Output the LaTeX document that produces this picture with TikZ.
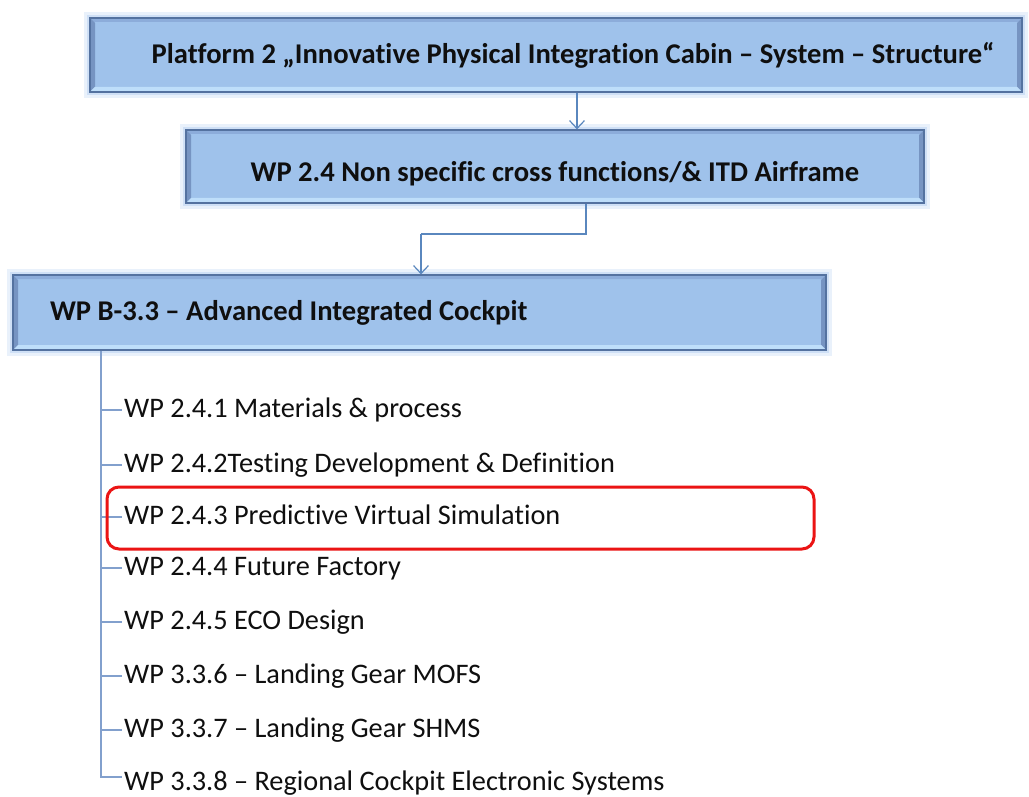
\documentclass[tikz,border=0pt]{standalone}
\usepackage{fontspec}
\setmainfont{Carlito}[Ligatures={NoCommon}]
\usetikzlibrary{arrows.meta}
\definecolor{boxfill}{RGB}{159,194,235}
\definecolor{boxline}{RGB}{84,114,160}
\definecolor{bevdark}{RGB}{118,148,194}
\definecolor{bevtop}{RGB}{140,172,218}
\definecolor{bevlight}{RGB}{190,222,250}
\definecolor{glowc}{RGB}{170,200,240}
\definecolor{connc}{RGB}{90,135,190}
\definecolor{treec}{RGB}{130,160,205}
\definecolor{hlred}{RGB}{235,20,20}
\definecolor{txtc}{RGB}{15,15,15}
\begin{document}
\begin{tikzpicture}[x=1pt,y=-1pt,
  box/.style={draw=boxline, line width=1.2pt, fill=boxfill, inner sep=0pt, text=txtc,
    font=\bfseries\fontsize{28.6}{32}\selectfont,
    preaction={draw=glowc, line width=12pt, opacity=0.25},
    preaction={draw=glowc, line width=6pt, opacity=0.4},
    path picture={
      \fill[bevtop] (path picture bounding box.north west) -- (path picture bounding box.north east)
        -- ([shift={(-4,4)}]path picture bounding box.north east) -- ([shift={(4,4)}]path picture bounding box.north west) -- cycle;
      \fill[bevdark] (path picture bounding box.north west) -- (path picture bounding box.south west)
        -- ([shift={(5,-5)}]path picture bounding box.south west) -- ([shift={(5,5)}]path picture bounding box.north west) -- cycle;
      \fill[bevdark] (path picture bounding box.north east) -- (path picture bounding box.south east)
        -- ([shift={(-5,-5)}]path picture bounding box.south east) -- ([shift={(-5,5)}]path picture bounding box.north east) -- cycle;
      \fill[bevlight] (path picture bounding box.south west) -- (path picture bounding box.south east)
        -- ([shift={(-5,-5)}]path picture bounding box.south east) -- ([shift={(5,-5)}]path picture bounding box.south west) -- cycle;
    }},
  item/.style={anchor=base west, inner sep=2pt, text height=20pt, text depth=6pt, text=txtc,
    font=\fontsize{28.3}{32}\selectfont},
  conn/.style={draw=connc, line width=1.2pt},
  arr/.style={conn, -{Straight Barb[length=8pt,width=15pt]}},
  tree/.style={draw=treec, line width=1.2pt},
  hl/.style={draw=hlred, line width=3pt, rounded corners=12pt, inner sep=0pt}
]
\useasboundingbox (0,0) rectangle (1029,797);
\fill[white] (0,0) rectangle (1029,797);

\node[box, minimum width=932pt, minimum height=74pt] (b1) at (556,55)
  {\hspace*{34pt}Platform 2 „Innovative Physical Integration Cabin – System – Structure“};
\node[box, minimum width=738pt, minimum height=73pt] (b2) at (555,166.5)
  {\raisebox{-15pt}[0pt][0pt]{WP 2.4 Non specific cross functions/\& ITD Airframe}};
\node[box, minimum width=813pt, minimum height=75pt] (b3) at (419.5,312.5)
  {\makebox[739pt][l]{WP B-3.3 – Advanced Integrated Cockpit}};

\coordinate (k1) at (577,110);
\coordinate (k2) at (586,234);
\coordinate (k3) at (421,234);
\draw[arr] (b1.south -| k1) -- (b2.north -| k1);
\draw[conn] (b2.south -| k2) -- (k2) -- (k3);
\draw[arr] (k3) -- (b3.north -| k3);

\node[item] (i1) at (122,417) {WP 2.4.1 Materials \& process};
\node[item] (i2) at (122,472) {WP 2.4.2Testing Development \& Definition};
\node[item] (i3) at (122,524) {WP 2.4.3 Predictive Virtual Simulation};
\node[item] (i4) at (122,575) {WP 2.4.4 Future Factory};
\node[item] (i5) at (122,629) {WP 2.4.5 ECO Design};
\node[item] (i6) at (122,683) {WP 3.3.6 – Landing Gear MOFS};
\node[item] (i7) at (122,737) {WP 3.3.7 – Landing Gear SHMS};
\node[item] (i8) at (122,790) {WP 3.3.8 – Regional Cockpit Electronic Systems};

\coordinate (trunk) at (101,350);
\draw[tree] (b3.south -| trunk) -- ([yshift=6pt]i8.west -| trunk) -- ([yshift=6pt]i8.west);
\foreach \n in {i1,i2,i3,i4,i5,i6,i7} \draw[tree] (\n.west -| trunk) -- (\n.west);

\node[hl, minimum width=707pt, minimum height=62pt] (hl) at (460.5,518) {};
\end{tikzpicture}
\end{document}
